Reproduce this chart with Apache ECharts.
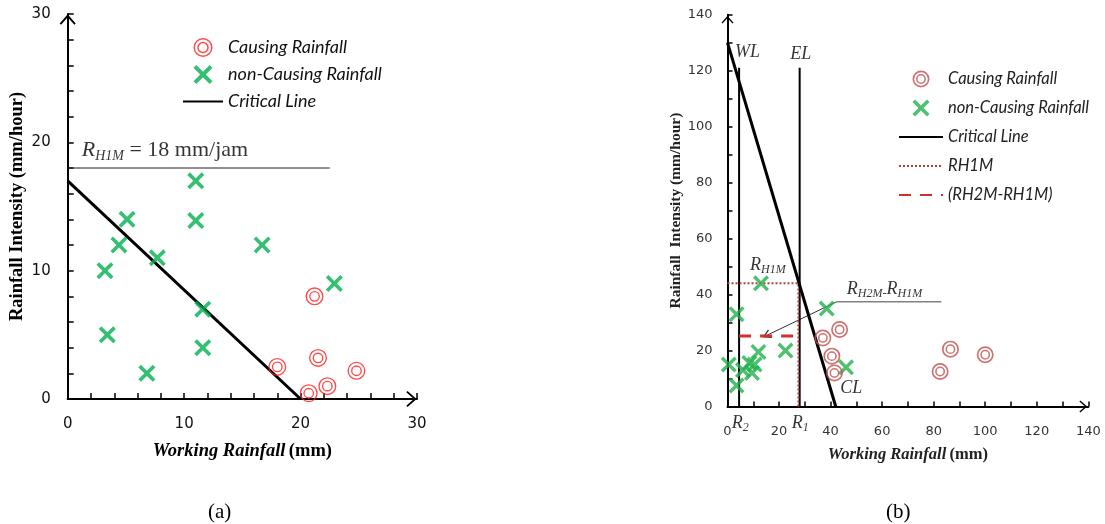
<!DOCTYPE html>
<html><head><meta charset="utf-8">
<script src="https://cdn.jsdelivr.net/npm/echarts@6/dist/echarts.min.js"></script>
<style>html,body{margin:0;padding:0;background:#fff}#c{width:1105px;height:524px}</style>
</head><body><div id="c"></div>
<script>
// ---------- data: panel (a) ----------
const aCausing = [[18.0,2.5],[20.7,0.45],[21.2,8.0],[21.5,3.2],[22.3,1.0],[24.8,2.2]];
const aNonCausing = [[3.2,10],[3.4,5],[4.4,12],[5.1,14],[6.8,2],[7.7,11],[11.0,17],[11.0,13.9],[11.6,7],[11.6,4],[16.7,12],[22.9,9]];
const aCritical = [[0,17],[20,0]];
const aRH1M = [[0,18],[22.5,18]];
const aTickLabels = [0,10,20,30];
// ---------- data: panel (b) ----------
const bCausing = [[37,24.5],[43.5,27.5],[40.5,18],[41.5,12],[82.5,12.5],[86.5,20.5],[100,18.5]];
const bNonCausing = [[0.5,15],[3.5,7.5],[3.5,33],[6,13],[8.5,15.5],[9.5,12],[10.5,15],[12,19.5],[13,44],[22.5,20],[38.5,35],[46,14]];
const bCritical = [[0,130],[42,0]];
const bWL = [[4.5,0],[4.5,121]];
const bEL = [[28,0],[28,121]];
const bRH1M = [[0,44],[27.5,44],[27.5,0]];
const bRH2M = [[4.5,25.2],[27.5,25.2]];
const bPointer = [[42.3,37.4],[15.2,25.4]];
const bPointerBar = [[42.3,37.4],[83,37.4]];
const bTickLabels = [0,20,40,60,80,100,120,140];

const CHEV = 'path://M10,0 L20,11.5 L18.3,13 L10,3.6 L1.7,13 L0,11.5 Z';
const XMARK = 'path://M0,3 L3,0 L10,7 L17,0 L20,3 L13,10 L20,17 L17,20 L10,13 L3,20 L0,17 L7,10 Z';
function ring(r1, r2){ // annulus with outer r1, inner r2 (opposite windings)
  return `M0,${-r1} A${r1},${r1} 0 1,1 0,${r1} A${r1},${r1} 0 1,1 0,${-r1} Z ` +
         `M0,${-r2} A${r2},${r2} 0 1,0 0,${r2} A${r2},${r2} 0 1,0 0,${-r2} Z `;
}
const DRING_A = 'path://' + ring(10,8.5) + ring(6,4.5);
const DRING_B = 'path://' + ring(10,8.0) + ring(5.8,4.0);
const NOSYM = {opacity:0, color:'rgba(0,0,0,0)', borderWidth:0};

const SERIF = 'Liberation Serif';
function textMark(xi, pt, text, rich){
  return {type:'scatter', name:'_t', xAxisIndex:xi, yAxisIndex:xi, data:[pt], symbolSize:0.1,
    itemStyle:{color:'transparent'}, silent:true, clip:false, z:6,
    label:{show:true, position:'right', distance:0, formatter:text, rich:rich, color:'#000'},
    emphasis:{disabled:true}};
}
function axisCommon(labels, fs, col, tickLen, arrowSize, margin){
  return {
    type:'value', splitLine:{show:false},
    axisLine:{show:true, onZero:false, lineStyle:{color:'#000', width:2},
      symbol:['none', CHEV], symbolSize:arrowSize, symbolOffset:[0,-arrowSize[1]/2]},
    axisTick:{show:true, inside:true, length:tickLen, lineStyle:{color:'#000', width:1.5}},
    axisLabel:{fontSize:fs, fontFamily:'DejaVu Sans', color:col, margin:margin,
      formatter:v => labels.includes(v) ? String(v) : ''}
  };
}
const richA = {
  r:{fontFamily:SERIF, fontStyle:'italic', fontSize:22, lineHeight:26, verticalAlign:'middle', color:'#000'},
  s:{fontFamily:SERIF, fontStyle:'italic', fontSize:14, lineHeight:14, verticalAlign:'bottom', color:'#000'},
  n:{fontFamily:SERIF, fontSize:22, lineHeight:26, verticalAlign:'middle', color:'#000'}
};
const richB = {
  r:{fontFamily:SERIF, fontStyle:'italic', fontSize:18, lineHeight:22, verticalAlign:'middle', color:'#000'},
  s:{fontFamily:SERIF, fontStyle:'italic', fontSize:12, lineHeight:12, verticalAlign:'bottom', color:'#000'}
};

const chart = echarts.init(document.getElementById('c'), null, {renderer:'canvas'});
const option = {
  animation:false,
  backgroundColor:'#fff',
  title:[
    {text:'(a)', left:203, top:497, textStyle:{fontFamily:SERIF, fontSize:21, fontWeight:'normal', color:'#000'}},
    {text:'(b)', left:881, top:497, textStyle:{fontFamily:SERIF, fontSize:21, fontWeight:'normal', color:'#000'}}
  ],
  grid:[
    {left:67.7, top:14, width:349.3, height:385, containLabel:false, outerBoundsMode:'none'},
    {left:727.5, top:14.7, width:360.8, height:391.8, containLabel:false, outerBoundsMode:'none'}
  ],
  legend:[
    {data:['Causing Rainfall','non-Causing Rainfall',{name:'Critical Line', itemStyle:NOSYM}],
     orient:'vertical', left:182, top:38, padding:0,
     itemWidth:40, itemHeight:19, itemGap:8, selectedMode:false,
     textStyle:{fontFamily:'Lato', fontStyle:'italic', fontSize:18, lineHeight:19, color:'#111'}},
    {data:['Causing Rainfall ','non-Causing Rainfall ',{name:'Critical Line ', itemStyle:NOSYM},
           {name:'RH1M', itemStyle:NOSYM},{name:'(RH2M-RH1M)', itemStyle:NOSYM}],
     orient:'vertical', left:898, top:70.5, padding:0,
     itemWidth:44, itemHeight:17, itemGap:12, selectedMode:false,
     textStyle:{fontFamily:'Lato', fontStyle:'italic', fontSize:16.5, lineHeight:17, color:'#222'}}
  ],
  xAxis:[
    Object.assign(axisCommon(aTickLabels, 15, '#111', 6, [16,11], 18), {gridIndex:0, min:0, max:30, interval:2,
      name:'{i|Working Rainfall} {b|(mm)}', nameLocation:'middle', nameGap:43,
      nameTextStyle:{rich:{i:{fontFamily:SERIF, fontStyle:'italic', fontWeight:'bold', fontSize:18.5, color:'#000'},
                           b:{fontFamily:SERIF, fontWeight:'bold', fontSize:18.5, color:'#000'}}}}),
    Object.assign(axisCommon(bTickLabels, 13, '#333', 5, [12,10], 19), {gridIndex:1, min:0, max:140, interval:10,
      name:'{i|Working Rainfall} {b|(mm)}', nameLocation:'middle', nameGap:40,
      nameTextStyle:{rich:{i:{fontFamily:SERIF, fontStyle:'italic', fontWeight:'bold', fontSize:16.5, color:'#222'},
                           b:{fontFamily:SERIF, fontWeight:'bold', fontSize:16.5, color:'#222'}}}})
  ],
  yAxis:[
    Object.assign(axisCommon(aTickLabels, 15, '#111', 6, [16,11], 17), {gridIndex:0, min:0, max:30, interval:2,
      name:'Rainfall Intensity (mm/hour)', nameLocation:'middle', nameGap:41,
      nameTextStyle:{fontFamily:SERIF, fontWeight:'bold', fontSize:18.5, color:'#000'}}),
    Object.assign(axisCommon(bTickLabels, 13, '#333', 5, [12,10], 15), {gridIndex:1, min:0, max:140, interval:10,
      name:'Rainfall  Intensity (mm/hour)', nameLocation:'middle', nameGap:44,
      nameTextStyle:{fontFamily:SERIF, fontWeight:'bold', fontSize:15.5, color:'#222'}})
  ],
  series:[
    // ----- panel (a) -----
    {type:'line', name:'_rh1m', xAxisIndex:0, yAxisIndex:0, data:aRH1M, symbol:'none', silent:true,
     lineStyle:{color:'#222', width:1}},
    {type:'line', name:'Critical Line', xAxisIndex:0, yAxisIndex:0, data:aCritical, symbol:'none', silent:true,
     lineStyle:{color:'#000', width:3}, itemStyle:{color:'#000'}},
    {type:'scatter', name:'non-Causing Rainfall', xAxisIndex:0, yAxisIndex:0, data:aNonCausing, symbol:XMARK, symbolSize:17,
     itemStyle:{color:'#00b050'}, z:3},
    {type:'scatter', name:'Causing Rainfall', xAxisIndex:0, yAxisIndex:0, data:aCausing, symbol:DRING_A, symbolSize:18,
     itemStyle:{color:'#ff1a1a'}, z:4},
    textMark(0, [1.2,19.35], '{r|R}{s|H1M}{n| = 18 mm/jam}', richA),
    // ----- panel (b) -----
    {type:'line', name:'_wl', xAxisIndex:1, yAxisIndex:1, data:bWL, symbol:'none', silent:true, lineStyle:{color:'#000', width:2}},
    {type:'line', name:'_el', xAxisIndex:1, yAxisIndex:1, data:bEL, symbol:'none', silent:true, lineStyle:{color:'#000', width:2}},
    {type:'line', name:'RH1M', xAxisIndex:1, yAxisIndex:1, data:bRH1M, symbol:'none', silent:true,
     lineStyle:{color:'#b5403a', width:2, type:'dotted'}, itemStyle:{color:'#b5403a'}},
    {type:'line', name:'(RH2M-RH1M)', xAxisIndex:1, yAxisIndex:1, data:bRH2M, symbol:'none', silent:true,
     lineStyle:{color:'#d0312d', width:3, type:[12,9]}, itemStyle:{color:'#d0312d'}},
    {type:'line', name:'Critical Line ', xAxisIndex:1, yAxisIndex:1, data:bCritical, symbol:'none', silent:true,
     lineStyle:{color:'#000', width:3}, itemStyle:{color:'#000'}},
    {type:'line', name:'_bar', xAxisIndex:1, yAxisIndex:1, data:bPointerBar, symbol:'none', silent:true,
     lineStyle:{color:'#444', width:1}},
    {type:'lines', name:'_arrow', coordinateSystem:'cartesian2d', xAxisIndex:1, yAxisIndex:1, silent:true,
     data:[{coords:bPointer}], symbol:['none', CHEV], symbolSize:9,
     lineStyle:{color:'#333', width:1, opacity:1}},
    {type:'scatter', name:'non-Causing Rainfall ', xAxisIndex:1, yAxisIndex:1, data:bNonCausing, symbol:XMARK, symbolSize:16,
     itemStyle:{color:'#22b14c'}, z:3},
    {type:'scatter', name:'Causing Rainfall ', xAxisIndex:1, yAxisIndex:1, data:bCausing, symbol:DRING_B, symbolSize:17,
     itemStyle:{color:'#c0504d'}, z:4},
    textMark(1, [2.9,126.6], '{r|WL}', richB),
    textMark(1, [24.3,125.9], '{r|EL}', richB),
    textMark(1, [8.7,50.5], '{r|R}{s|H1M}', richB),
    textMark(1, [46.3,42], '{r|R}{s|H2M-}{r|R}{s|H1M}', richB),
    textMark(1, [43.7,6.6], '{r|CL}', richB),
    textMark(1, [1.6,-5.9], '{r|R}{s|2}', richB),
    textMark(1, [24.9,-5.9], '{r|R}{s|1}', richB)
  ]
};
chart.setOption(option);
</script>
</body></html>
